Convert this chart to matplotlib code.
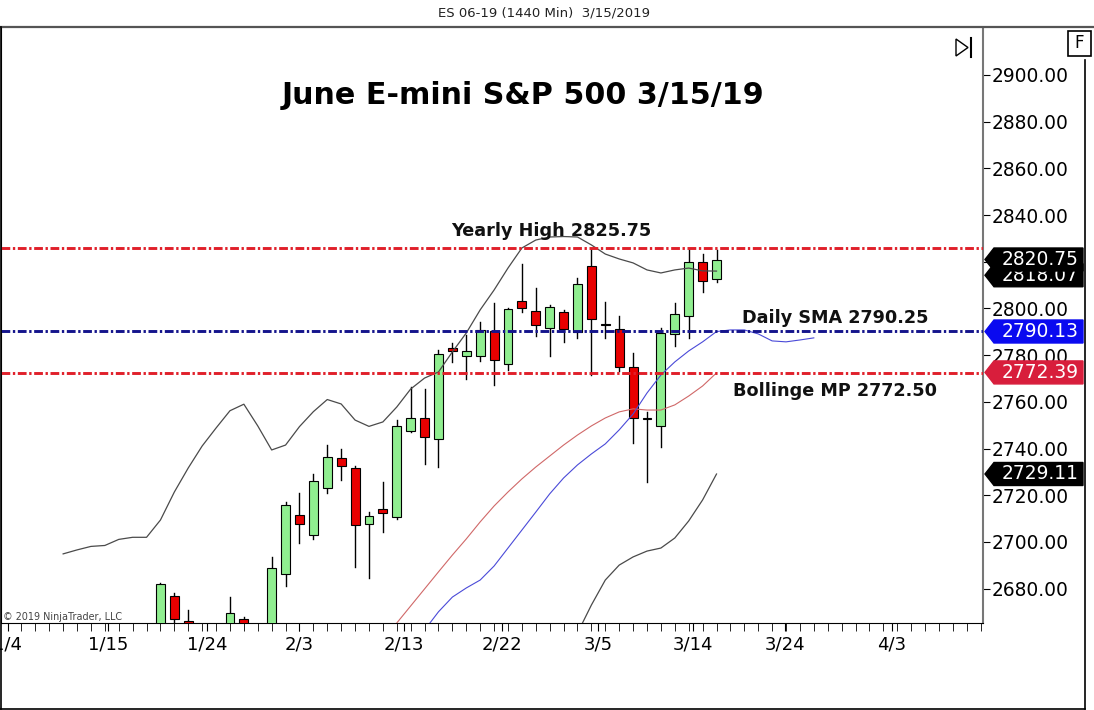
import matplotlib
matplotlib.use("Agg")
import matplotlib.pyplot as plt
from matplotlib.patches import Rectangle, Polygon
from matplotlib.ticker import FormatStrFormatter
from matplotlib.transforms import blended_transform_factory

# ---- daily candles (bar index, OHLC) ----
bar_idx = [0, 1, 2, 5, 6, 8, 9, 10, 11, 12, 13, 14, 15, 16, 17, 18, 19, 20, 21,
           22, 23, 24, 25, 26, 27, 28, 29, 30, 31, 32, 33, 34, 35, 36, 37, 38, 39, 40]
opens = [2662, 2677, 2666.25, 2664, 2667, 2662, 2686.25, 2711.75, 2703, 2723,
         2736, 2731.75, 2707.5, 2714, 2710.75, 2747.5, 2753, 2744, 2783, 2779.5,
         2779.75, 2790.5, 2776, 2803, 2799, 2791.5, 2798.5, 2789.75, 2818.25, 2793.5,
         2791.25, 2774.75, 2753, 2749.5, 2789, 2796.75, 2819.75, 2812.5]
highs = [2682.25, 2678, 2671, 2676.5, 2668, 2693.75, 2717, 2721, 2729, 2741.5,
         2740, 2732.5, 2712.75, 2725.75, 2752.25, 2766.5, 2765.5, 2782, 2785, 2788.75,
         2794.25, 2802.25, 2800.25, 2819, 2808.75, 2801.5, 2799.5, 2813, 2825.75, 2802.75,
         2796.75, 2780.75, 2755.5, 2791.5, 2802.25, 2825.5, 2823.5, 2825]
lows = [2660, 2662, 2658, 2660, 2660, 2658, 2681, 2699.5, 2701.25, 2721,
        2726.5, 2689.25, 2684.5, 2704.25, 2709.75, 2747, 2733.5, 2732.25, 2777, 2769.75,
        2777.5, 2767.25, 2773.75, 2798.5, 2788, 2779.5, 2785.75, 2787.5, 2771.5, 2787.25,
        2773.25, 2742.25, 2725.5, 2740.5, 2784, 2787.25, 2807.25, 2811.5]
closes = [2682, 2667, 2662, 2669.5, 2663, 2689, 2715.75, 2707.75, 2726, 2736.25,
          2732.5, 2707.25, 2711.25, 2712.5, 2749.5, 2753, 2744.75, 2780.5, 2781.75, 2781.75,
          2790.75, 2777.75, 2799.75, 2800, 2792.75, 2800.75, 2791.25, 2810.5, 2795.5, 2793,
          2774.75, 2753, 2752.5, 2789.5, 2797.5, 2819.75, 2811.75, 2820.75]

# ---- indicators ----
bb_upper_x = list(range(-7, 41))
bb_upper = [2694.9, 2696.6, 2698.1, 2698.5, 2701.1, 2702.0, 2702.0, 2709.4, 2721.4, 2731.7,
            2741.1, 2748.8, 2756.2, 2759.0, 2749.7, 2739.4, 2741.5, 2749.4, 2755.8, 2761.0,
            2759.1, 2752.2, 2749.5, 2751.4, 2757.8, 2765.5, 2770.2, 2772.8, 2781.4, 2789.5,
            2799.4, 2807.9, 2817.3, 2825.9, 2829.3, 2830.6, 2830.8, 2830.6, 2827.2, 2823.3,
            2821.2, 2819.5, 2816.5, 2815.2, 2816.5, 2817.3, 2816.1, 2816.0]
bb_lower_x = list(range(30, 41))
bb_lower = [2661.0, 2673.0, 2683.7, 2690.1, 2693.6, 2696.1, 2697.4, 2701.7, 2709.0, 2718.0, 2729.1]
mid_x = list(range(16, 41))
mid_line = [2658.0, 2665.3, 2672.6, 2679.9, 2687.2, 2694.4, 2701.3, 2708.6, 2715.4, 2721.4,
            2727.0, 2732.1, 2736.8, 2741.5, 2745.8, 2749.7, 2753.1, 2755.7, 2757.0, 2756.5,
            2756.5, 2758.7, 2762.5, 2766.8, 2772.4]
sma_x = list(range(19, 48))
sma_line = [2662.3, 2670.1, 2676.4, 2680.3, 2683.7, 2689.7, 2697.4, 2705.1, 2712.8, 2720.6,
            2727.4, 2733.0, 2737.7, 2742.0, 2748.0, 2754.8, 2763.8, 2771.5, 2777.1, 2781.8,
            2785.7, 2790.1, 2790.8, 2790.8, 2789.1, 2786.1, 2785.7, 2786.5, 2787.4]

yearly_high = 2825.75
daily_sma = 2790.25
bollinger_mp = 2772.50

# right-axis price markers: value, colour (first one sits partly under the second)
marker_vals = [2818.07, 2820.75, 2790.13, 2772.39, 2729.11]
marker_cols = ["black", "black", "#0a0af0", "#d81e3c", "black"]
marker_shift_px = [9, -0.5, 0, -0.5, 0]

x_labels = ["1/4", "1/15", "1/24", "2/3", "2/13", "2/22", "3/5", "3/14", "3/24", "4/3"]
x_label_pos = [-11.0, -3.78, 3.35, 9.96, 17.5, 24.6, 31.5, 38.3, 44.9, 52.6]
y_ticks = [2680, 2700, 2720, 2740, 2760, 2780, 2800, 2820, 2840, 2860, 2880, 2900]

W, H = 1094, 710
fig = plt.figure(figsize=(W / 100, H / 100), dpi=100)
fig.patch.set_facecolor("white")

ax = fig.add_axes([1 / W, 87 / H, 982 / W, 595 / H])
ax.set_xlim(-11.47, 59.17)
ax.set_ylim(2665.3, 2920.1)

# candles
for k, o, h, l, c in zip(bar_idx, opens, highs, lows, closes):
    ax.plot([k, k], [l, h], color="black", lw=1.0, zorder=2)
    col = "#90ee90" if c > o else "#e80000"
    body = max(abs(c - o), 0.4)
    ax.add_patch(Rectangle((k - 0.32, min(o, c)), 0.64, body, facecolor=col,
                           edgecolor="black", lw=0.8, zorder=3))

ax.plot(bb_upper_x, bb_upper, color="#4a4a4a", lw=0.9, zorder=4)
ax.plot(bb_lower_x, bb_lower, color="#4a4a4a", lw=0.9, zorder=4)
ax.plot(mid_x, mid_line, color="#d06868", lw=0.8, zorder=4)
ax.plot(sma_x, sma_line, color="#4a4ad8", lw=0.8, zorder=4)

dashdot = (0, (3, 0.9, 0.8, 0.9))
ax.axhline(yearly_high, color="#e0202a", lw=2.1, ls=dashdot, zorder=5)
ax.axhline(daily_sma, color="#14148c", lw=2.1, ls=dashdot, zorder=5)
ax.axhline(bollinger_mp, color="#e0202a", lw=2.1, ls=dashdot, zorder=5)

# axes styling
ax.yaxis.tick_right()
ax.set_yticks(y_ticks)
ax.yaxis.set_major_formatter(FormatStrFormatter("%.2f"))
ax.tick_params(axis="y", direction="out", length=5, pad=1.5, labelsize=13.4, colors="black")
ax.set_xticks(x_label_pos)
ax.set_xticklabels(x_labels)
ax.set_xticks(list(range(-11, 60)), minor=True)
ax.tick_params(axis="x", which="both", direction="out", length=6, pad=3, labelsize=13)
ax.spines["top"].set_visible(False)
ax.spines["right"].set_color("#777777")
ax.spines["right"].set_linewidth(1.5)
ax.spines["left"].set_color("black")
ax.spines["bottom"].set_color("black")

# overlay in pixel coordinates for decorations
ov = fig.add_axes([0, 0, 1, 1], zorder=10)
ov.set_xlim(0, W)
ov.set_ylim(H, 0)
ov.axis("off")
ov.patch.set_alpha(0)

ov.plot([0, W], [27, 27], color="#555555", lw=1.6)
ov.plot([0.8, 0.8], [27, 709], color="black", lw=1.2)
ov.plot([0, 1085], [709, 709], color="black", lw=1.2)
ov.plot([1085, 1085], [60, 709], color="black", lw=1.2)

ov.text(544, 13, "ES 06-19 (1440 Min)  3/15/2019", ha="center", va="center",
        fontsize=9.5, color="#222222")
ov.text(523, 96, "June E-mini S&P 500 3/15/19", ha="center", va="center",
        fontsize=21.7, fontweight="bold", color="black")
ov.text(551, 231, "Yearly High 2825.75", ha="center", va="center",
        fontsize=12.7, fontweight="bold", color="#111111")
ov.text(742, 318, "Daily SMA 2790.25", ha="left", va="center",
        fontsize=12.7, fontweight="bold", color="#111111")
ov.text(733, 391, "Bollinge MP 2772.50", ha="left", va="center",
        fontsize=12.7, fontweight="bold", color="#111111")
ov.text(3, 617, "\u00a9 2019 NinjaTrader, LLC", ha="left", va="center",
        fontsize=6.9, color="#444444")

# play/end icon and F box
ov.add_patch(Polygon([(956, 39), (968, 47.5), (956, 56)], closed=True,
                     facecolor="none", edgecolor="black", lw=1.0))
ov.plot([971, 971], [38, 57], color="black", lw=1.5)
ov.add_patch(Rectangle((1068, 31), 23, 25, facecolor="white", edgecolor="black", lw=1.2))
ov.text(1079.5, 43.5, "F", ha="center", va="center", fontsize=12, color="black")

# price markers on the right axis
tr = blended_transform_factory(ov.transData, ax.transData)
px_per_pt = 595 / (2920.1 - 2665.3)
hh = 11.5 / px_per_pt
for v, col, sh in zip(marker_vals, marker_cols, marker_shift_px):
    y = v - sh / px_per_pt
    ov.add_patch(Polygon([(985, y), (994, y + hh), (1083, y + hh), (1083, y - hh), (994, y - hh)],
                         closed=True, facecolor=col, edgecolor=col, transform=tr,
                         clip_on=False, zorder=20))
    ov.text(1002, y, f"{v:.2f}", transform=tr, ha="left", va="center",
            fontsize=13.4, color="white", zorder=20, clip_on=False)

fig.savefig("out.png", dpi=100)
